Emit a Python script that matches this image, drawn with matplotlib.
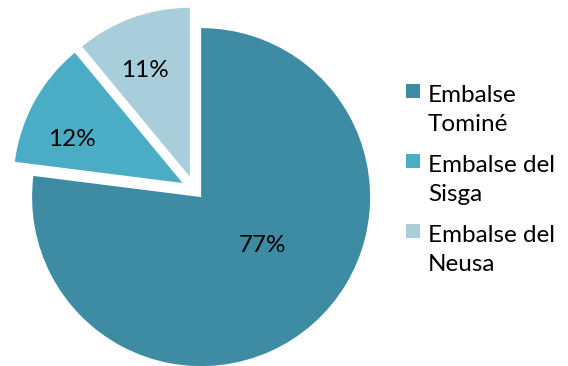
import matplotlib
matplotlib.use('Agg')
import matplotlib.pyplot as plt
from matplotlib.patches import Rectangle

# reservoir shares
labels = ['Embalse\nTominé', 'Embalse del\nSisga', 'Embalse del\nNeusa']
shares = [77, 12, 11]
colors = ['#3D8CA3', '#4BACC6', '#A8CEDC']
explode = [0.06, 0.08, 0.08]

W, H = 568, 366
fig = plt.figure(figsize=(W / 100, H / 100), dpi=100)
fig.patch.set_facecolor('white')
ax = fig.add_axes([0, 0, 1, 1])

wedges, texts, pcts = ax.pie(
    shares, colors=colors, explode=explode, startangle=90, counterclock=False,
    radius=1, center=(0, 0), autopct=lambda p: f'{p:.0f}%', pctdistance=0.72,
    textprops=dict(fontsize=17.5, family='Lato', color='black'))

# pie center at (194, 190) px from top-left, radius 169 px
R, cx, cy = 169.0, 194.4, 189.5
ax.set_aspect('auto')
ax.set_xlim(-cx / R, (W - cx) / R)
ax.set_ylim(-(H - cy) / R, cy / R)
ax.axis('off')

# percentage labels at best-fit spots rather than on the bisector
for t, pos in zip(pcts, [(0.40, -0.33), (-0.725, 0.293), (-0.293, 0.707)]):
    t.set_position(pos)

# legend drawn by hand so the swatch lines up with the first text line
for i, (lab, w) in enumerate(zip(labels, wedges)):
    top = 84 + 70 * i
    fig.patches.append(Rectangle((406 / W, 1 - (top + 14) / H), 14 / W, 14 / H,
                                 transform=fig.transFigure, facecolor=w.get_facecolor(),
                                 edgecolor='none'))
    # baseline alignment pins the second line
    fig.text(428 / W, 1 - (top + 47) / H, lab, ha='left', va='baseline', fontsize=17.5,
             family='Lato', linespacing=1.5)

plt.savefig('out.png', dpi=100)
